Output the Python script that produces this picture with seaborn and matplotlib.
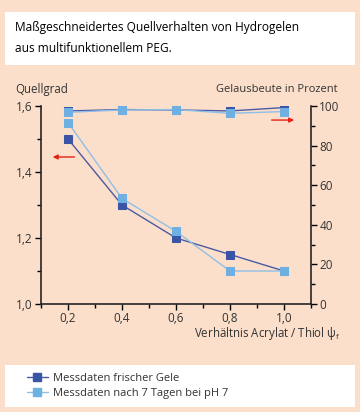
import pandas as pd
import matplotlib
matplotlib.use("Agg")
import matplotlib.pyplot as plt
import seaborn as sns
from matplotlib.lines import Line2D
from matplotlib.patches import Rectangle

# Data
ratio = [0.2, 0.4, 0.6, 0.8, 1.0]
quell_frisch = [1.50, 1.30, 1.20, 1.15, 1.10]
quell_7tage = [1.55, 1.32, 1.22, 1.10, 1.10]
ausbeute_frisch = [97.5, 98.2, 98.0, 97.5, 99.2]
ausbeute_7tage = [96.8, 98.0, 98.2, 96.3, 97.2]

series_names = ["Messdaten frischer Gele", "Messdaten nach 7 Tagen bei pH 7"]
x_ticks = [0.2, 0.4, 0.6, 0.8, 1.0]
x_ticklabels = ["0,2", "0,4", "0,6", "0,8", "1,0"]
y1_ticks = [1.0, 1.2, 1.4, 1.6]
y1_ticklabels = ["1,0", "1,2", "1,4", "1,6"]
y2_ticks = [0, 20, 40, 60, 80, 100]
y2_ticklabels = ["0", "20", "40", "60", "80", "100"]

bg = "#fbdfcb"
dark = "#3a55a5"
light = "#6eb0e2"
dark_line = "#4b5aa3"
light_line = "#8fbfe6"
txt = "#333333"

sns.set_style("ticks")
plt.rcParams["font.family"] = ["Open Sans", "DejaVu Sans"]
plt.rcParams["mathtext.fontset"] = "custom"
plt.rcParams["mathtext.rm"] = "Open Sans"
plt.rcParams["mathtext.it"] = "Open Sans"

df_q = pd.DataFrame({
    "ratio": ratio * 2,
    "wert": quell_frisch + quell_7tage,
    "serie": [series_names[0]] * 5 + [series_names[1]] * 5,
})
df_a = pd.DataFrame({
    "ratio": ratio * 2,
    "wert": ausbeute_frisch + ausbeute_7tage,
    "serie": [series_names[0]] * 5 + [series_names[1]] * 5,
})

fig = plt.figure(figsize=(3.6, 4.12), dpi=100, facecolor=bg)
ax = fig.add_axes([41 / 360, 1 - 304 / 412, 270 / 360, 198 / 412])
ax.set_facecolor(bg)
ax2 = ax.twinx()

for df, axis in [(df_q, ax), (df_a, ax2)]:
    for name, lc, mc in [(series_names[0], dark_line, dark), (series_names[1], light_line, light)]:
        sub = df[df["serie"] == name]
        sns.lineplot(data=sub, x="ratio", y="wert", ax=axis, color=lc, lw=1.0,
                     marker="s", markersize=5.5, markerfacecolor=mc,
                     markeredgecolor=mc, legend=False)

ax.set_xlim(0.1, 1.1)
ax.set_ylim(1.0, 1.6)
ax2.set_ylim(0, 100)

ax.set_xticks(x_ticks)
ax.set_xticklabels(x_ticklabels)
ax.set_xticks([0.1, 0.3, 0.5, 0.7, 0.9, 1.1], minor=True)
ax.set_yticks(y1_ticks)
ax.set_yticklabels(y1_ticklabels)
ax.set_yticks([1.1, 1.3, 1.5], minor=True)
ax2.set_yticks(y2_ticks)
ax2.set_yticklabels(y2_ticklabels)
ax2.set_yticks([10, 30, 50, 70, 90], minor=True)

for a in (ax, ax2):
    a.set_xlabel("")
    a.set_ylabel("")
    a.tick_params(which="major", length=4, width=1, colors="black", labelcolor=txt,
                  labelsize=8.5, pad=2)
    a.tick_params(which="minor", length=3, width=1, colors="black")
    for s in a.spines.values():
        s.set_linewidth(1.2)

ax.spines["top"].set_visible(False)
ax2.spines["top"].set_visible(False)
ax.spines["right"].set_visible(False)
ax2.spines["left"].set_visible(False)
ax2.spines["bottom"].set_visible(False)
ax2.spines["right"].set_visible(True)

# red arrows pointing to the respective axis
ax.annotate("", xy=(0.133, 1.4455), xytext=(0.234, 1.4455),
            arrowprops=dict(arrowstyle="-|>", color="#e32219", lw=1.0, mutation_scale=7))
ax2.annotate("", xy=(1.048, 92.9), xytext=(0.944, 92.9),
             arrowprops=dict(arrowstyle="-|>", color="#e32219", lw=1.0, mutation_scale=7))

# axis titles
fig.text(15 / 360, 1 - 89 / 412, "Quellgrad", fontsize=8.3, color=txt, va="center", ha="left")
fig.text(338 / 360, 1 - 89 / 412, "Gelausbeute in Prozent", fontsize=8.0, color=txt,
         va="center", ha="right")
fig.text(341 / 360, 1 - 334 / 412, r"Verhältnis Acrylat / Thiol ψ$_\mathrm{f}$", fontsize=8.3,
         color=txt, va="center", ha="right")

# title box
fig.patches.append(Rectangle((5 / 360, 1 - 65 / 412), 350 / 360, 53 / 412,
                             transform=fig.transFigure, facecolor="white", edgecolor="none"))
fig.text(15 / 360, 1 - 28 / 412, "Maßgeschneidertes Quellverhalten von Hydrogelen",
         fontsize=8.6, color="black", va="center", ha="left")
fig.text(15 / 360, 1 - 49 / 412, "aus multifunktionellem PEG.",
         fontsize=8.6, color="black", va="center", ha="left")

# legend box
fig.patches.append(Rectangle((5 / 360, 1 - 407 / 412), 350 / 360, 42 / 412,
                             transform=fig.transFigure, facecolor="white", edgecolor="none"))
handles = [
    Line2D([], [], color=dark_line, lw=1.0, marker="s", markersize=5.5,
           markerfacecolor=dark, markeredgecolor=dark),
    Line2D([], [], color=light_line, lw=1.0, marker="s", markersize=5.5,
           markerfacecolor=light, markeredgecolor=light),
]
fig.legend(handles, series_names, loc="center left",
           bbox_to_anchor=(21 / 360, 1 - 386 / 412), frameon=False, fontsize=8.0,
           handlelength=1.9, handletextpad=0.45, labelspacing=0.35, borderpad=0,
           labelcolor=txt)

fig.savefig("out.png", dpi=100, facecolor=bg)
